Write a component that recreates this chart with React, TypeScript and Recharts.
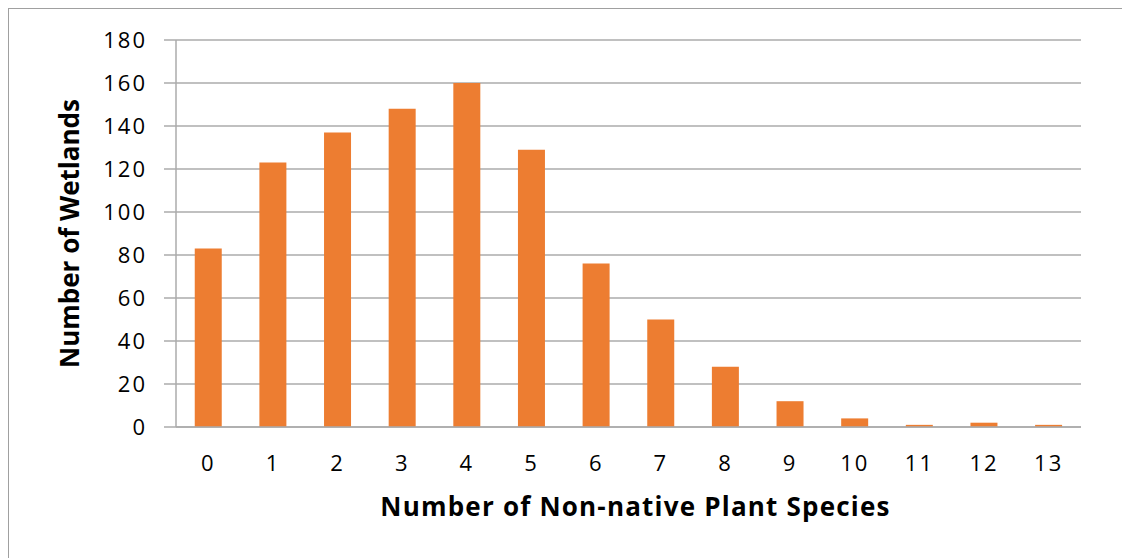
import React from "react";
import { BarChart, Bar, XAxis, YAxis, CartesianGrid } from "recharts";

const categories = ["0", "1", "2", "3", "4", "5", "6", "7", "8", "9", "10", "11", "12", "13"];
const wetlands = [83, 123, 137, 148, 160, 129, 76, 50, 28, 12, 4, 1, 2, 1];
const yTicks = [0, 20, 40, 60, 80, 100, 120, 140, 160, 180];

const data = categories.map((c, i) => ({ name: c, value: wetlands[i] }));

const FONT = "'Open Sans', 'Liberation Sans', sans-serif";
const GRID = "#ABABAB";

const XTitle = (props: any) => {
  const vb = props.viewBox || {};
  return (
    <text
      x={vb.x + vb.width / 2 + 7}
      y={vb.y + 89}
      textAnchor="middle"
      fontFamily={FONT}
      fontWeight="bold"
      fontSize={26}
      letterSpacing={1.2}
      fill="#000"
    >
      Number of Non-native Plant Species
    </text>
  );
};

const YTitle = (props: any) => {
  const vb = props.viewBox || {};
  const cy = vb.y + vb.height / 2;
  const cx = 60;
  return (
    <text
      x={cx}
      y={cy}
      transform={`rotate(-90, ${cx}, ${cy})`}
      textAnchor="middle"
      dominantBaseline="central"
      fontFamily={FONT}
      fontWeight="bold"
      fontSize={26}
      fill="#000"
    >
      Number of Wetlands
    </text>
  );
};

export default function App() {
  return (
    <div
      style={{
        position: "fixed",
        left: 8,
        top: 8,
        width: 1200,
        height: 600,
        overflow: "hidden",
        borderTop: "1.5px solid #A0A0A0",
        borderLeft: "1.5px solid #A0A0A0",
        boxSizing: "border-box",
        background: "#fff",
      }}
    >
      <BarChart
        width={1112}
        height={540}
        data={data}
        margin={{ top: 31, right: 40, bottom: 0, left: 0 }}
        barCategoryGap="29%"
      >
        <CartesianGrid vertical={false} stroke={GRID} strokeWidth={1.5} />
        <XAxis
          dataKey="name"
          height={122}
          tickLine={false}
          axisLine={{ stroke: GRID, strokeWidth: 1.5 }}
          tickSize={0}
          tickMargin={28}
          tick={{ fontFamily: FONT, fontSize: 22, fill: "#000", letterSpacing: 2 }}
          interval={0}
          label={<XTitle />}
        />
        <YAxis
          width={167}
          domain={[0, 180]}
          ticks={yTicks}
          interval={0}
          tickSize={12}
          tickMargin={17}
          tickLine={{ stroke: GRID, strokeWidth: 1.5 }}
          axisLine={{ stroke: GRID, strokeWidth: 1.5 }}
          tick={{ fontFamily: FONT, fontSize: 22, fill: "#000", letterSpacing: 2 }}
          label={<YTitle />}
        />
        <Bar dataKey="value" fill="#ED7D31" isAnimationActive={false} />
      </BarChart>
    </div>
  );
}
